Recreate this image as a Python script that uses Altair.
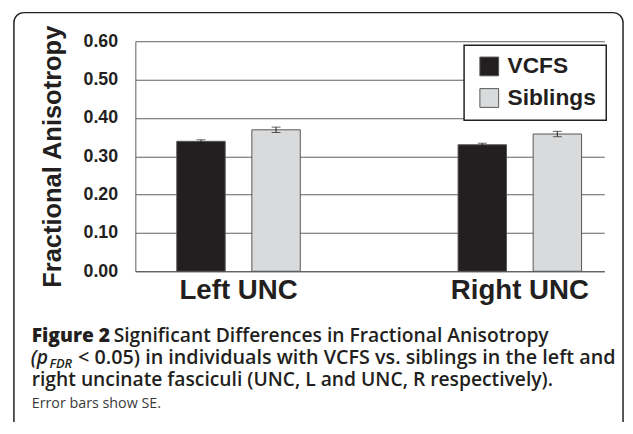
import altair as alt
import pandas as pd

# ---- data ----
regions = ["Left UNC", "Right UNC"]
groups = ["VCFS", "Siblings"]
vcfs_fa = [0.339, 0.330]
siblings_fa = [0.369, 0.358]
vcfs_se = [0.004, 0.004]
siblings_se = [0.007, 0.007]
y_ticks = [0.0, 0.1, 0.2, 0.3, 0.4, 0.5, 0.6]
colors = ["#231f20", "#d9dadb"]

caption_bold = "Figure 2"
caption_l1 = "Significant Differences in Fractional Anisotropy"
caption_l2a = "(p"
caption_l2sub = "FDR"
caption_l2b = "< 0.05) in individuals with VCFS vs. siblings in the left and"
caption_l3 = "right uncinate fasciculi (UNC, L and UNC, R respectively)."
caption_l4 = "Error bars show SE."

rows = []
for i, r in enumerate(regions):
    rows.append({"region": r, "group": groups[0], "fa": vcfs_fa[i], "se": vcfs_se[i]})
    rows.append({"region": r, "group": groups[1], "fa": siblings_fa[i], "se": siblings_se[i]})
df = pd.DataFrame(rows)
df["lo"] = df["fa"] - df["se"]
df["hi"] = df["fa"] + df["se"]

FONT = "Liberation Sans"
CAP = "Open Sans"
W, H = 475, 233

x_axis = alt.Axis(title=None, labelAngle=0, labelFontSize=28, labelFont=FONT,
                  labelFontWeight="bold", labelColor="#231f20", ticks=False,
                  labelPadding=6, domainColor="#555", domainWidth=1)
x_scale = alt.Scale(paddingInner=0.561, paddingOuter=0.114, align=0.646)
y_axis = alt.Axis(title="Fractional Anisotropy", values=y_ticks, format=".2f",
                  labelOverlap=False, tickCount=7,
                  labelFontSize=18, labelFont=FONT, labelFontWeight="bold",
                  labelColor="#231f20", ticks=False, labelPadding=18,
                  gridColor="#5e5e5e", gridWidth=1, domainColor="#5e5e5e",
                  titleFontSize=25.8, titleFont=FONT, titleFontWeight="bold",
                  titleColor="#231f20", titlePadding=18)
y_scale = alt.Scale(domain=[0, 0.6], nice=False)

xs = alt.X("region:N", sort=regions, scale=x_scale, axis=x_axis)
xo = alt.XOffset("group:N", sort=groups, scale=alt.Scale(paddingInner=0.355, paddingOuter=0))

base = alt.Chart(df)

bars = base.mark_bar(stroke="#555", strokeWidth=1).encode(
    x=xs, xOffset=xo,
    y=alt.Y("fa:Q", scale=y_scale, axis=y_axis),
    fill=alt.Fill("group:N", sort=groups,
                  scale=alt.Scale(domain=groups, range=colors),
                  legend=alt.Legend(title=None, orient="none", legendX=333, legendY=4,
                                    symbolType="square", symbolSize=361,
                                    symbolStrokeColor="#555", symbolStrokeWidth=1,
                                    symbolOffset=4, labelFontSize=23, labelFont=FONT,
                                    labelFontWeight="bold", labelColor="#231f20",
                                    labelOffset=7, rowPadding=8, padding=10,
                                    strokeColor="#231f20", fillColor="white")),
)

err = base.mark_rule(color="#231f20", strokeWidth=1).encode(
    x=xs, xOffset=xo,
    y=alt.Y("lo:Q", scale=y_scale, axis=y_axis), y2="hi:Q")
cap_lo = base.mark_tick(color="#231f20", size=9, thickness=1).encode(
    x=xs, xOffset=xo, y=alt.Y("lo:Q", scale=y_scale, axis=y_axis))
cap_hi = base.mark_tick(color="#231f20", size=9, thickness=1).encode(
    x=xs, xOffset=xo, y=alt.Y("hi:Q", scale=y_scale, axis=y_axis))

one = pd.DataFrame({"k": [0]})

frame = alt.Chart(one).mark_rect(fill="transparent", stroke="#231f20", strokeWidth=1.5,
                                 cornerRadius=10).encode(
    x=alt.value(-123), x2=alt.value(494), y=alt.value(-29), y2=alt.value(420))


def txt(s, x, y, size=19.5, weight=600, color="#231f20", style="normal"):
    return alt.Chart(one).mark_text(text=s, align="left", baseline="alphabetic",
                                    font=CAP, fontSize=size, fontWeight=weight,
                                    color=color, fontStyle=style).encode(
        x=alt.value(x), y=alt.value(y))


c1a = txt(caption_bold, -105, 305, weight=800)
c1b = txt(caption_l1, -22, 305)
c2a = txt(caption_l2a, -106, 327, style="italic")
c2s = txt(caption_l2sub, -87, 331, size=13, style="italic")
c2b = txt(caption_l2b, -58, 327, size=20)
c3 = txt(caption_l3, -105, 349)
c4 = txt(caption_l4, -105, 371, size=14.5, weight=400, color="#3a3a3a")

chart = alt.layer(bars, err, cap_lo, cap_hi, frame, c1a, c1b, c2a, c2s, c2b, c3, c4).properties(
    width=W, height=H,
    autosize=alt.AutoSizeParams(type="none"),
    padding={"left": 129, "top": 31, "right": 21, "bottom": 150},
).configure_view(stroke=None).configure_legend(strokeWidth=1.5)

chart.save("out.html", embed_options={"renderer": "svg", "actions": False})
